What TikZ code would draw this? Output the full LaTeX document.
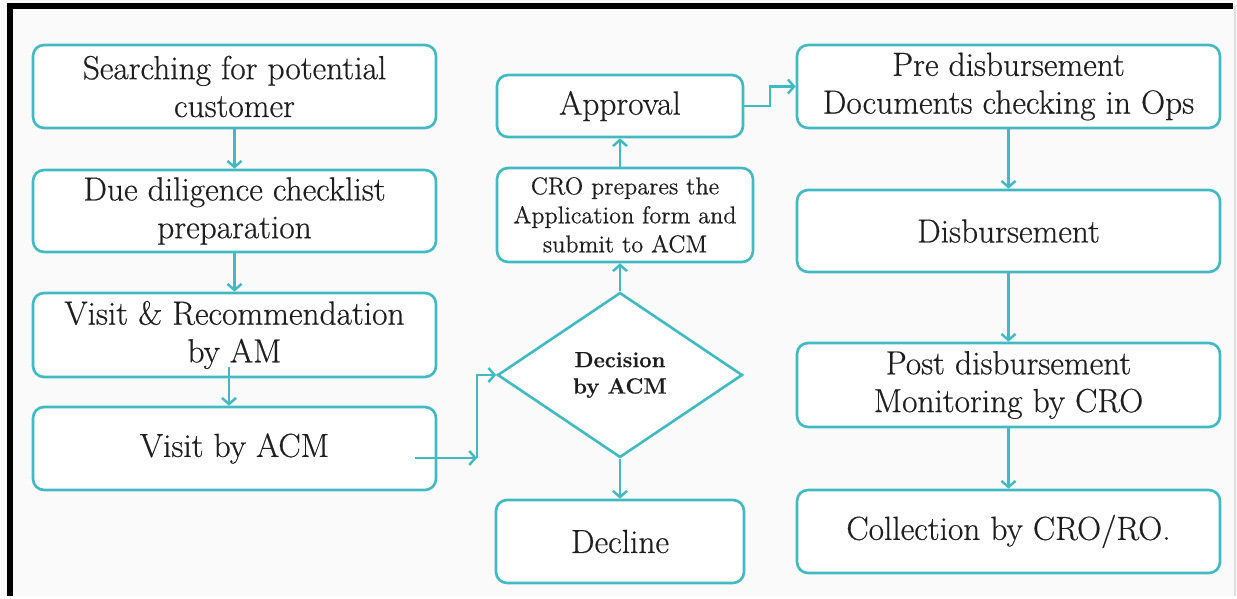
\documentclass[tikz,border=0pt]{standalone}
\usepackage{fontspec}
\setmainfont{Latin Modern Roman}[FakeBold=0.5]
\usepackage{tikz}
\usetikzlibrary{shapes.geometric, arrows.meta, positioning, calc}
\definecolor{flowteal}{RGB}{66,186,194}
\definecolor{inkgray}{RGB}{30,30,30}
\definecolor{pagebg}{RGB}{250,250,250}

\begin{document}
\begin{tikzpicture}[x=0.02cm, y=-0.02cm,
    procbox/.style={draw=flowteal, line width=1.5pt, rounded corners=0.22cm, fill=white, align=center, text=inkgray, inner sep=0pt, font=\fontsize{19}{21.5}\selectfont},
    decbox/.style={diamond, draw=flowteal, line width=1.5pt, fill=white, align=center, text=inkgray, inner sep=0pt, minimum width=4.9cm, minimum height=3.3cm, font=\fontsize{12.5}{15}\selectfont\bfseries},
    flowarrow/.style={draw=flowteal, line width=1.4pt, -{Straight Barb[length=3.5pt,width=8pt]}}]
    \def\lx{234.5}
    \def\mx{620}
    \def\rx{1008.5}
    % page and frame
    \fill[pagebg] (0,0) rectangle (1237,596);
    \draw[line width=3pt] (10,596) -- (10,6) -- (1233,6);
    \draw[gray!25, line width=1pt] (1235,6) -- (1235,596);
    % left column
    \node[procbox, minimum width=8.06cm, minimum height=1.66cm] (search) at (\lx,86.5) {Searching for potential\\customer};
    \node[procbox, minimum width=8.06cm, minimum height=1.64cm] (dilig) at (\lx,211) {Due diligence checklist\\preparation};
    \node[procbox, minimum width=8.06cm, minimum height=1.68cm] (recom) at (\lx,335) {Visit \& Recommendation\\by AM};
    \node[procbox, minimum width=8.06cm, minimum height=1.66cm] (visit) at (\lx,448.5) {Visit by ACM};
    % middle column
    \node[procbox, minimum width=4.92cm, minimum height=1.24cm] (approval) at (\mx,106) {Approval};
    \node[procbox, minimum width=5.12cm, minimum height=1.88cm, font=\fontsize{13.8}{16.5}\selectfont] (cro) at (625,215) {CRO prepares the\\Application form and\\submit to ACM};
    \node[decbox] (decision) at (\mx,375) {Decision\\by ACM};
    \node[procbox, minimum width=4.96cm, minimum height=1.66cm] (decline) at (\mx,541.5) {Decline};
    % right column
    \node[procbox, minimum width=8.46cm, minimum height=1.66cm] (pre) at (\rx,86.5) {Pre disbursement\\Documents checking in Ops};
    \node[procbox, minimum width=8.46cm, minimum height=1.64cm] (disb) at (\rx,231) {Disbursement};
    \node[procbox, minimum width=8.46cm, minimum height=1.68cm] (post) at (\rx,385) {Post disbursement\\Monitoring by CRO};
    \node[procbox, minimum width=8.46cm, minimum height=1.66cm] (collect) at (\rx,531.5) {Collection by CRO/RO.};
    % connectors
    \coordinate (amdrop) at (229,367);
    \coordinate (acmstart) at (415,458);
    \coordinate (acmbend) at (477,458);
    \coordinate (appkink) at (770,106);
    \draw[flowarrow] (search) -- (dilig);
    \draw[flowarrow] (dilig) -- (recom);
    \draw[flowarrow] (amdrop) -- (amdrop |- visit.north);
    \draw[flowarrow] (acmstart) -- (acmbend);
    \draw[flowarrow] (acmbend) |- (decision.west);
    \draw[flowarrow] (decision.north) -- (decision.north |- cro.south);
    \draw[flowarrow] (approval.south |- cro.north) -- (approval.south);
    \draw[flowarrow] (decision.south) -- (decline.north);
    \draw[flowarrow] (approval.east) -- (appkink) |- (pre.west);
    \draw[flowarrow] (pre) -- (disb);
    \draw[flowarrow] (disb) -- (post);
    \draw[flowarrow] (post) -- (collect);
\end{tikzpicture}
\end{document}
